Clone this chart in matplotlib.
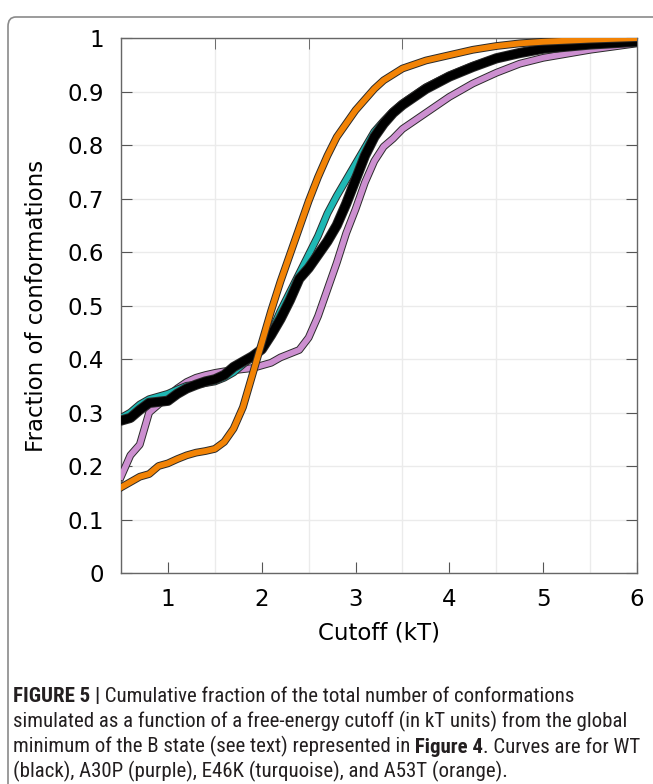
import matplotlib
matplotlib.use('Agg')
import matplotlib.pyplot as plt
import matplotlib.patheffects as pe
from matplotlib.patches import FancyBboxPatch
from matplotlib import font_manager
import numpy as np

# cutoff values (kT)
cutoff = [0.5, 0.6, 0.7, 0.8, 0.9, 1.0, 1.1, 1.2, 1.3, 1.4, 1.5, 1.6, 1.7, 1.8, 1.9,
          2.0, 2.1, 2.2, 2.3, 2.4, 2.5, 2.6, 2.7, 2.8, 2.9, 3.0, 3.1, 3.2, 3.3, 3.4, 3.5,
          3.75, 4.0, 4.25, 4.5, 4.75, 5.0, 5.5, 6.0]

wt = [0.285, 0.29, 0.305, 0.318, 0.32, 0.322, 0.335, 0.345, 0.352, 0.358, 0.362, 0.37, 0.385, 0.395, 0.405,
      0.418, 0.445, 0.475, 0.51, 0.55, 0.57, 0.595, 0.62, 0.65, 0.69, 0.735, 0.78, 0.815, 0.84, 0.86, 0.875,
      0.905, 0.928, 0.946, 0.962, 0.972, 0.98, 0.988, 0.993]

a30p = [0.18, 0.22, 0.24, 0.30, 0.315, 0.33, 0.345, 0.357, 0.365, 0.37, 0.374, 0.377, 0.379, 0.381, 0.383,
        0.388, 0.393, 0.403, 0.41, 0.417, 0.44, 0.48, 0.53, 0.58, 0.635, 0.68, 0.73, 0.77, 0.797, 0.812, 0.83,
        0.86, 0.89, 0.915, 0.935, 0.952, 0.963, 0.978, 0.99]

e46k = [0.29, 0.30, 0.315, 0.325, 0.33, 0.335, 0.343, 0.35, 0.352, 0.355, 0.358, 0.365, 0.375, 0.39, 0.403,
        0.42, 0.45, 0.49, 0.525, 0.56, 0.595, 0.63, 0.672, 0.705, 0.735, 0.765, 0.795, 0.825, 0.845, 0.863, 0.878,
        0.908, 0.93, 0.948, 0.963, 0.973, 0.981, 0.989, 0.994]

a53t = [0.16, 0.17, 0.18, 0.185, 0.20, 0.205, 0.213, 0.22, 0.225, 0.228, 0.232, 0.245, 0.27, 0.31, 0.37,
        0.43, 0.49, 0.545, 0.595, 0.645, 0.695, 0.74, 0.78, 0.815, 0.84, 0.865, 0.885, 0.905, 0.921, 0.932, 0.943,
        0.958, 0.968, 0.978, 0.985, 0.99, 0.993, 0.997, 1.0]

caption = [
    [('FIGURE 5 |', True), (' Cumulative fraction of the total number of conformations', False)],
    [('simulated as a function of a free-energy cutoff (in kT units) from the global', False)],
    [('minimum of the B state (see text) represented in', False), (' Figure 4', True),
     ('. Curves are for WT', False)],
    [('(black), A30P (purple), E46K (turquoise), and A53T (orange).', False)],
]

fig = plt.figure(figsize=(6.53, 7.84), dpi=100)
ax = fig.add_axes([0.1853, 0.2691, 0.7902, 0.6824])

def outlined(y, color, lw, z):
    ax.plot(cutoff, y, color=color, lw=lw, zorder=z,
            path_effects=[pe.Stroke(linewidth=lw + 1.4, foreground='#2a2a2a'), pe.Normal()])

outlined(a30p, '#cc8fd0', 4.2, 3)
outlined(e46k, '#1fb8b4', 4.2, 4)
outlined(wt, '#000000', 6.0, 5)
outlined(a53t, '#f28305', 4.2, 6)

ax.set_xlim(0.5, 6)
ax.set_ylim(0, 1)
ax.set_xticks([1, 2, 3, 4, 5, 6])
ax.set_xticks(np.arange(0.5, 6.01, 0.5), minor=True)
ax.set_yticks(np.arange(0, 1.01, 0.1))
ax.set_yticklabels(['0', '0.1', '0.2', '0.3', '0.4', '0.5', '0.6', '0.7', '0.8', '0.9', '1'])
ax.grid(True, which='minor', axis='x', color='#ebebeb', lw=1)
ax.grid(True, which='major', axis='y', color='#ebebeb', lw=1)
ax.set_axisbelow(True)
ax.tick_params(axis='x', which='major', direction='in', length=8, top=False,
               labelsize=16.5, pad=11, color='#555555')
ax.tick_params(axis='x', which='minor', direction='in', length=8, top=True, bottom=False,
               color='#555555')
ax.tick_params(axis='y', direction='in', length=8, right=True, labelsize=16.5, pad=12,
               color='#555555')
for s in ax.spines.values():
    s.set_color('#666666')
    s.set_linewidth(1)

ax.set_xlabel('Cutoff (kT)', fontsize=16.5, labelpad=7)
ax.set_ylabel('Fraction of conformations', fontsize=16.5, labelpad=14)

# frame around figure
box = FancyBboxPatch((8 / 653, -0.05), 1.2, 1.05 - 17 / 784, boxstyle='round,pad=0,rounding_size=0.012',
                     transform=fig.transFigure, fill=False, edgecolor='#8a8a8a', lw=1.2)
fig.add_artist(box)

# caption font: a narrow sans if there is one
cap_font = ['Liberation Sans', 'DejaVu Sans']
for name in ['Roboto Condensed', 'Liberation Sans Narrow']:
    try:
        font_manager.findfont(font_manager.FontProperties(family=name), fallback_to_default=False)
        cap_font = [name] + cap_font
        break
    except ValueError:
        pass
cap_col = '#231f20'

# pick the size so the second caption line spans like in the figure
renderer = fig.canvas.get_renderer()
probe = fig.text(0, 0, caption[1][0][0], fontsize=13.5, family=cap_font)
w = probe.get_window_extent(renderer).width
probe.remove()
cap_size = min(13.5 * 615 / w, 15)

def caption_line(pieces, y):
    prev = None
    for txt, bold in pieces:
        wt_ = 'bold' if bold else 'normal'
        if prev is None:
            prev = fig.text(13 / 653, y, txt, fontsize=cap_size, family=cap_font, weight=wt_,
                            color=cap_col, va='baseline', ha='left')
        else:
            prev = ax.annotate(txt, xy=(1, 0), xycoords=prev, fontsize=cap_size, family=cap_font,
                               weight=wt_, color=cap_col, va='bottom', ha='left', annotation_clip=False)
    return prev

for i, pieces in enumerate(caption):
    caption_line(pieces, 1 - (702 + 25 * i) / 784)

fig.savefig('out.png', dpi=100)
